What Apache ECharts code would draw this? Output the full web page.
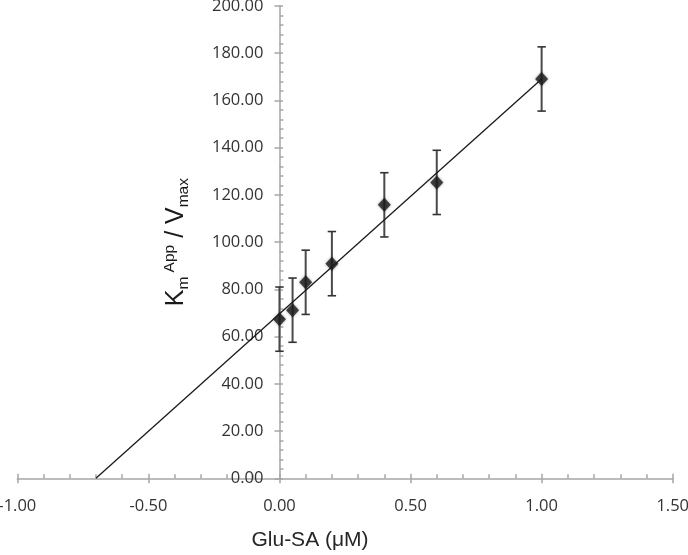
<!DOCTYPE html>
<html>
<head>
<meta charset="utf-8">
<script src="https://cdn.jsdelivr.net/npm/echarts@6/dist/echarts.min.js"></script>
<style>
html,body{margin:0;padding:0;background:#fff;}
#chart{width:688px;height:555px;}
</style>
</head>
<body>
<div id="chart"></div>
<script>
// Data
const concX   = [0.00, 0.05, 0.10, 0.20, 0.40, 0.60, 1.00];
const ratioY  = [67.4, 71.2, 83.0, 90.9, 115.8, 125.3, 169.1];
const errY    = [13.6, 13.6, 13.6, 13.6, 13.6, 13.6, 13.6];
const trendX  = [-0.70, 1.00];
const trendY  = [0.0, 169.1];
const xTicks  = { min: -1.0, max: 1.5, step: 0.5 };
const yTicks  = { min: 0, max: 200, step: 20 };
const xTitle  = 'Glu-SA (μM)';

const axisColor = '#a6a6a6';
const labelFont = 'Open Sans';
const labelColor = '#333333';

const W = 688, H = 555;
const gridBox = { left: 17.3, right: 15.3, top: 6, bottom: 76.7 };
// the y axis crosses the x axis at x = 0: shift it inward from the grid's left edge
const plotW = W - gridBox.left - gridBox.right;
const yAxisShift = -plotW * (0 - xTicks.min) / (xTicks.max - xTicks.min);

const pts = concX.map((x, i) => [x, ratioY[i]]);
const bars = concX.map((x, i) => [x, ratioY[i] - errY[i], ratioY[i] + errY[i]]);
const trend = trendX.map((x, i) => [x, trendY[i]]);

const chart = echarts.init(document.getElementById('chart'), null, {renderer: 'canvas'});
chart.setOption({
  animation: false,
  backgroundColor: '#ffffff',
  grid: Object.assign({ containLabel: false, outerBoundsMode: 'none' }, gridBox),
  xAxis: [{
    type: 'value', min: xTicks.min, max: xTicks.max, interval: xTicks.step,
    position: 'bottom',
    axisLine: { show: true, onZero: false, lineStyle: { color: axisColor, width: 1.5 } },
    axisTick: { show: true, inside: false, length: 5, lineStyle: { color: axisColor, width: 1.5 } },
    axisLabel: { show: true, margin: 19, fontSize: 16.5, fontFamily: labelFont, color: labelColor,
      formatter: v => v.toFixed(2), showMinLabel: true, showMaxLabel: true },
    splitLine: { show: false },
    name: xTitle, nameLocation: 'middle', nameGap: 51,
    nameTextStyle: { fontSize: 21, fontFamily: 'Liberation Sans', color: '#262626', padding: [0, 70, 0, 0] }
  }, {
    type: 'value', min: xTicks.min, max: xTicks.max, interval: xTicks.step,
    position: 'bottom',
    axisLine: { show: true, onZero: false, lineStyle: { color: axisColor, width: 1.5, opacity: 0 } },
    axisTick: { show: true, inside: true, length: 4.5, lineStyle: { color: axisColor, width: 1.5 } },
    minorTick: { show: true, splitNumber: 5, length: 4, lineStyle: { color: axisColor, width: 1.5 } },
    axisLabel: { show: false },
    splitLine: { show: false }
  }],
  yAxis: [{
    type: 'value', min: yTicks.min, max: yTicks.max, interval: yTicks.step,
    position: 'left', offset: yAxisShift,
    axisLine: { show: true, onZero: false, lineStyle: { color: axisColor, width: 1.5 } },
    axisTick: { show: true, inside: false, length: 5, lineStyle: { color: axisColor, width: 1.5 } },
    axisLabel: { show: true, margin: 16, fontSize: 16.5, fontFamily: labelFont, color: labelColor,
      formatter: v => v.toFixed(2), showMinLabel: true, showMaxLabel: true },
    splitLine: { show: false },
    name: '{b|K}{sub|m}{sp| }{sup|App}{b| / V}{sub|max}',
    nameLocation: 'middle', nameGap: 88, nameRotate: 90,
    nameTextStyle: {
      color: '#1a1a1a', fontFamily: 'Liberation Sans',
      rich: {
        b:   { fontSize: 25, lineHeight: 30, fontFamily: 'Liberation Sans', color: '#1a1a1a' },
        sub: { fontSize: 15.5, lineHeight: 14, verticalAlign: 'bottom', fontFamily: 'Liberation Sans', color: '#1a1a1a' },
        sup: { fontSize: 15.5, lineHeight: 14, verticalAlign: 'top', fontFamily: 'Liberation Sans', color: '#1a1a1a' },
        sp:  { fontSize: 15.5, lineHeight: 14, fontFamily: 'Liberation Sans' }
      }
    }
  }, {
    type: 'value', min: yTicks.min, max: yTicks.max, interval: yTicks.step,
    position: 'left', offset: yAxisShift,
    axisLine: { show: true, onZero: false, lineStyle: { color: axisColor, width: 1.5, opacity: 0 } },
    axisTick: { show: true, inside: true, length: 3.5, lineStyle: { color: axisColor, width: 1.5 } },
    minorTick: { show: true, splitNumber: 5, length: 4, lineStyle: { color: axisColor, width: 1.5 } },
    axisLabel: { show: false },
    splitLine: { show: false }
  }],
  series: [{
    type: 'custom',
    z: 2,
    data: bars,
    renderItem: function (params, api) {
      const x = api.value(0);
      const lo = api.coord([x, api.value(1)]);
      const hi = api.coord([x, api.value(2)]);
      const cap = 4.2;
      return {
        type: 'group',
        children: [
          { type: 'line', shape: { x1: lo[0], y1: lo[1], x2: hi[0], y2: hi[1] }, style: { stroke: '#4a4a4a', lineWidth: 2 } },
          { type: 'line', shape: { x1: lo[0] - cap, y1: lo[1], x2: lo[0] + cap, y2: lo[1] }, style: { stroke: '#333', lineWidth: 1.6 } },
          { type: 'line', shape: { x1: hi[0] - cap, y1: hi[1], x2: hi[0] + cap, y2: hi[1] }, style: { stroke: '#333', lineWidth: 1.6 } }
        ]
      };
    }
  }, {
    type: 'line',
    z: 3,
    data: trend,
    showSymbol: false,
    symbol: 'none',
    lineStyle: { color: '#1a1a1a', width: 1.3 },
    silent: true
  }, {
    type: 'scatter',
    z: 4,
    data: pts,
    symbol: 'diamond',
    symbolSize: [13, 14],
    itemStyle: { color: '#1c1c1c', shadowBlur: 3, shadowColor: 'rgba(0,0,0,0.45)' }
  }]
});
</script>
</body>
</html>
